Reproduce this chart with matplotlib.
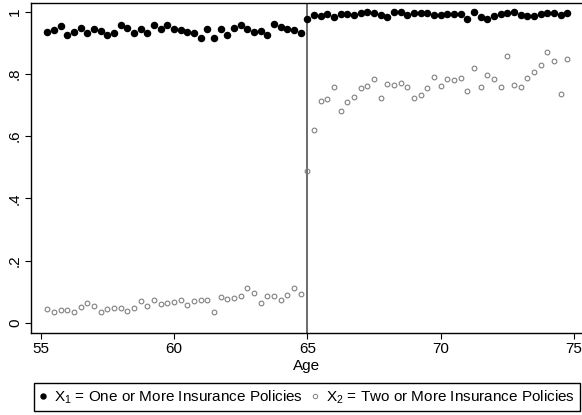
import numpy as np
import matplotlib
matplotlib.use("Agg")
import matplotlib.pyplot as plt
from matplotlib.lines import Line2D

plt.rcParams['font.family'] = ['Liberation Sans', 'DejaVu Sans']
plt.rcParams['mathtext.fontset'] = 'custom'
plt.rcParams['mathtext.rm'] = 'Liberation Sans'

# quarterly age bins
age_pre = np.arange(55.25, 64.76, 0.25)
age_post = np.arange(65.0, 74.76, 0.25)

x1_pre = [0.936, 0.940, 0.954, 0.926, 0.935, 0.948, 0.930, 0.944, 0.938, 0.926,
          0.931, 0.956, 0.947, 0.930, 0.945, 0.932, 0.958, 0.945, 0.958, 0.944,
          0.940, 0.935, 0.933, 0.917, 0.943, 0.915, 0.946, 0.924, 0.949, 0.958,
          0.946, 0.936, 0.937, 0.926, 0.961, 0.952, 0.944, 0.941, 0.933]
x1_post = [0.976, 0.988, 0.985, 0.993, 0.982, 0.993, 0.993, 0.989, 0.997, 0.998,
           0.997, 0.988, 0.982, 0.998, 0.998, 0.989, 0.997, 0.997, 0.997, 0.991,
           0.988, 0.992, 0.994, 0.994, 0.977, 0.998, 0.983, 0.977, 0.986, 0.993,
           0.996, 0.998, 0.988, 0.986, 0.986, 0.992, 0.997, 0.997, 0.990, 0.997]

x2_pre = [0.043, 0.035, 0.042, 0.041, 0.035, 0.052, 0.065, 0.055, 0.036, 0.043,
          0.047, 0.048, 0.038, 0.048, 0.070, 0.054, 0.073, 0.059, 0.064, 0.066,
          0.074, 0.058, 0.070, 0.072, 0.073, 0.034, 0.082, 0.077, 0.081, 0.087,
          0.112, 0.097, 0.064, 0.085, 0.087, 0.072, 0.090, 0.111, 0.092]
x2_post = [0.488, 0.619, 0.714, 0.720, 0.759, 0.680, 0.710, 0.726, 0.756, 0.761,
           0.785, 0.722, 0.768, 0.765, 0.772, 0.757, 0.721, 0.732, 0.754, 0.790,
           0.762, 0.784, 0.780, 0.787, 0.744, 0.819, 0.758, 0.797, 0.784, 0.759,
           0.859, 0.764, 0.757, 0.787, 0.806, 0.829, 0.872, 0.840, 0.735, 0.847]

age = np.concatenate([age_pre, age_post])
x1 = np.array(x1_pre + x1_post)
x2 = np.array(x2_pre + x2_post)

fig = plt.figure(figsize=(5.82, 4.15), dpi=100)
ax = fig.add_axes([31 / 582, 1 - 332.7 / 415, 551 / 582, 329.7 / 415])

ax.axvline(65, color='#6a6a6a', lw=1.4, zorder=1)
ax.plot(age, x1, 'o', color='black', ms=4.4, mec='black', zorder=3)
ax.plot(age, x2, 'o', mfc='none', mec='#808080', ms=3.4, mew=0.8, zorder=3)

ax.set_xlim(54.636, 75.296)
ax.set_ylim(-0.032, 1.028)
ax.set_xticks([55, 60, 65, 70, 75])
ax.set_yticks([0, 0.2, 0.4, 0.6, 0.8, 1.0])
ax.set_yticklabels(['0', '.2', '.4', '.6', '.8', '1'], rotation=90, va='center')
ax.tick_params(labelsize=11, length=4.5, width=0.8, color='black', pad=2)
ax.set_xlabel('Age', fontsize=11, labelpad=2)
ax.spines['right'].set_visible(False)
for s in ['left', 'bottom', 'top']:
    ax.spines[s].set_linewidth(1.0)

handles = [
    Line2D([], [], ls='none', marker='o', color='black', ms=3.6),
    Line2D([], [], ls='none', marker='o', mfc='none', mec='#808080', ms=3.2, mew=0.7),
]
labels = [r'$\mathregular{X_1}$ = One or More Insurance Policies',
          r'$\mathregular{X_2}$ = Two or More Insurance Policies']
leg = fig.legend(handles, labels, loc='center', bbox_to_anchor=(0.5275, 0.0435),
                 ncol=2, fontsize=11, frameon=True, fancybox=False, framealpha=1,
                 edgecolor='black', handlelength=0.6, handletextpad=0.4,
                 columnspacing=0.5, borderpad=0.35, borderaxespad=0)
leg.get_frame().set_linewidth(1.0)

fig.savefig('out.png', dpi=100)
